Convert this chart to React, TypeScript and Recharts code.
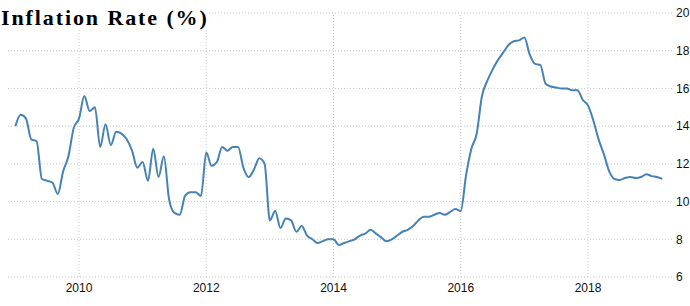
import { LineChart, Line, XAxis, YAxis, CartesianGrid, ReferenceLine } from 'recharts';

const startYear = 2009;

const rates2009 = [14.0, 14.6, 14.4, 13.3, 13.2, 11.2, 11.1, 11.0, 10.4, 11.6, 12.4, 13.9];
const rates2010 = [14.4, 15.6, 14.8, 15.0, 12.9, 14.1, 13.0, 13.7, 13.6, 13.3, 12.7, 11.8];
const rates2011 = [12.1, 11.1, 12.8, 11.3, 12.4, 10.1, 9.4, 9.3, 10.3, 10.5, 10.5, 10.3];
const rates2012 = [12.6, 11.9, 12.1, 12.9, 12.7, 12.9, 12.9, 11.8, 11.3, 11.7, 12.3, 12.0];
const rates2013 = [9.0, 9.5, 8.6, 9.1, 9.0, 8.4, 8.7, 8.2, 8.0, 7.8, 7.9, 8.0];
const rates2014 = [8.0, 7.7, 7.8, 7.9, 8.0, 8.2, 8.3, 8.5, 8.3, 8.1, 7.9, 8.0];
const rates2015 = [8.2, 8.4, 8.5, 8.7, 9.0, 9.2, 9.2, 9.3, 9.4, 9.3, 9.45, 9.6];
const rates2016 = [9.5, 11.4, 12.8, 13.6, 15.6, 16.4, 17.0, 17.5, 17.9, 18.3, 18.5, 18.55];
const rates2017 = [18.7, 17.8, 17.3, 17.25, 16.25, 16.1, 16.05, 16.0, 16.0, 15.9, 15.9, 15.4];
const rates2018 = [15.1, 14.3, 13.3, 12.5, 11.6, 11.2, 11.15, 11.25, 11.3, 11.25, 11.3, 11.45];
const rates2019 = [11.35, 11.3, 11.2];

const yearTicks = [2010, 2012, 2014, 2016, 2018];
const rateTicks = [6, 8, 10, 12, 14, 16, 18, 20];

const allRates = [
  rates2009, rates2010, rates2011, rates2012, rates2013, rates2014,
  rates2015, rates2016, rates2017, rates2018, rates2019,
];

const chartData = allRates.flatMap((yearRates, yi) =>
  yearRates.map((rate, mi) => ({ t: startYear + yi + mi / 12, rate }))
);

const tickStyle = { fontSize: 12, fill: '#111', fontFamily: '"Liberation Sans", Arial, sans-serif' };
const gridColor = '#c8c8c8';

const App = () => {
  return (
    <div style={{ position: 'absolute', left: 0, top: 0, width: 690, height: 306, background: '#fff' }}>
      <LineChart width={690} height={306} data={chartData} margin={{ top: 13, right: 0, left: 8, bottom: 0 }}>
        <CartesianGrid stroke={gridColor} strokeDasharray="1 2" vertical={false} />
        {yearTicks.map((year) => (
          <ReferenceLine key={year} x={year} stroke={gridColor} strokeDasharray="1 2" />
        ))}
        <XAxis
          dataKey="t"
          type="number"
          domain={[2008.884, 2019.32]}
          ticks={yearTicks}
          axisLine={false}
          tickLine={false}
          tickSize={0}
          tickMargin={6}
          height={29}
          tick={tickStyle}
        />
        <YAxis
          orientation="right"
          domain={[6, 20]}
          ticks={rateTicks}
          axisLine={false}
          tickLine={false}
          tickSize={0}
          tickMargin={4}
          width={18}
          tick={tickStyle}
        />
        <Line
          type="monotone"
          dataKey="rate"
          stroke="#4682b4"
          strokeWidth={2}
          dot={false}
          activeDot={false}
          isAnimationActive={false}
        />
      </LineChart>
      <div
        style={{
          position: 'absolute',
          left: 1,
          top: 6,
          fontFamily: '"Liberation Serif", "Times New Roman", serif',
          fontWeight: 'bold',
          fontSize: 22,
          letterSpacing: 1.9,
          lineHeight: '24px',
          background: '#fff',
          color: '#000',
        }}
      >
        Inflation Rate (%)
      </div>
    </div>
  );
};

export default App;
